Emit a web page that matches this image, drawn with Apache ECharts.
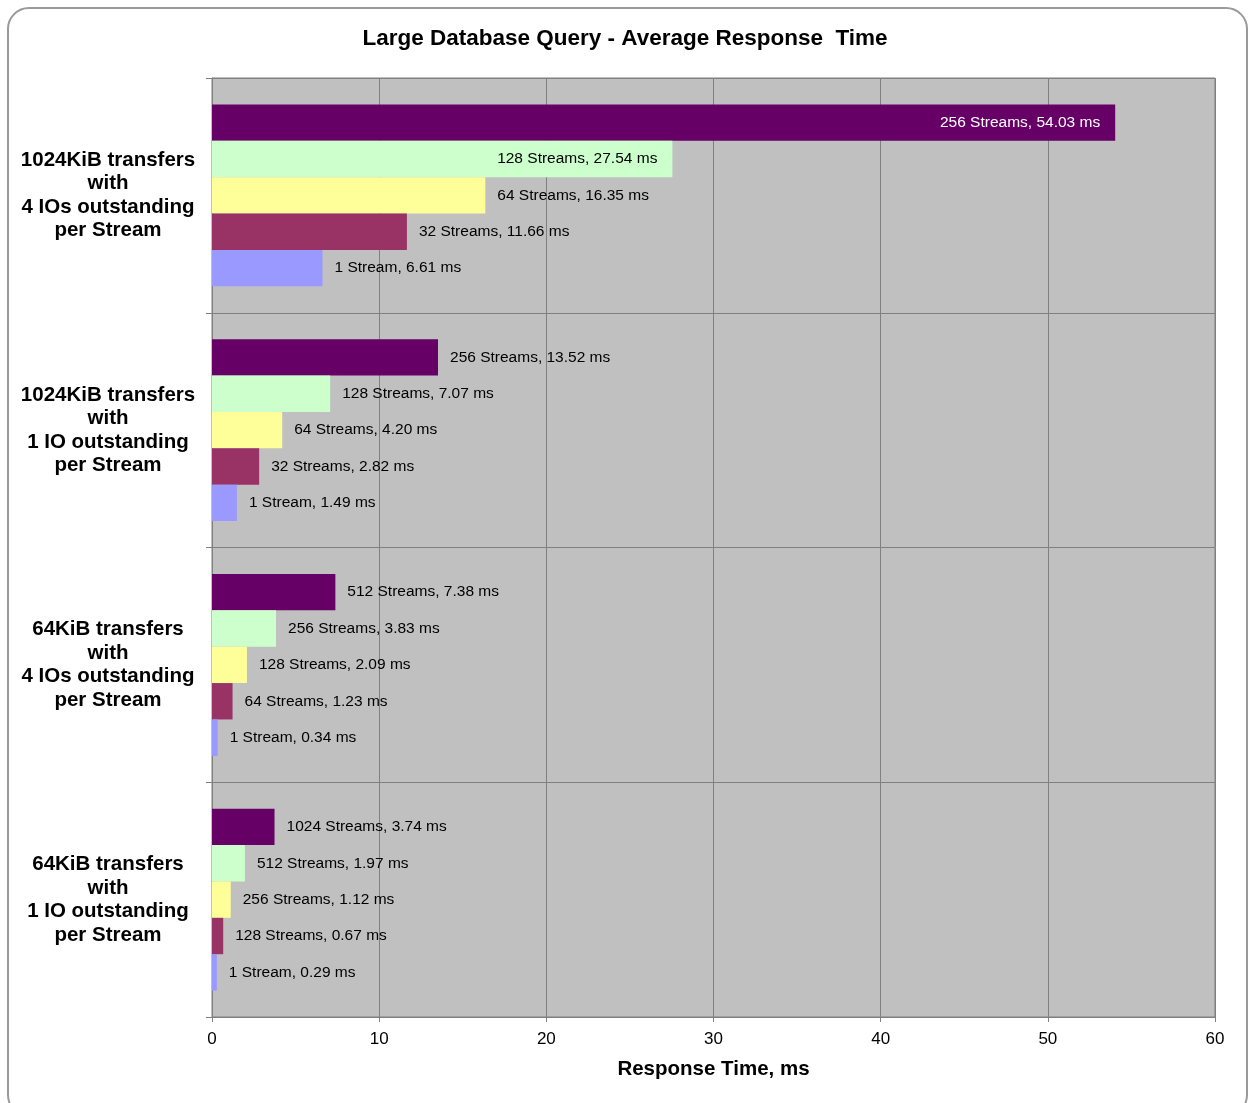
<!DOCTYPE html>
<html><head><meta charset="utf-8">
<script src="https://cdn.jsdelivr.net/npm/echarts@6/dist/echarts.min.js"></script>
<style>
html,body{margin:0;padding:0;background:#fff;}
#frame{position:absolute;left:7px;top:7px;width:1241px;height:1110px;border:2px solid #9a9a9a;border-radius:22px;box-sizing:border-box;}
#chart{position:absolute;left:0;top:0;width:1250px;height:1103px;}
</style></head>
<body>
<div id="frame"></div>
<div id="chart"></div>
<script>
const categories = [
  "1024KiB transfers\nwith\n4 IOs outstanding\nper Stream",
  "1024KiB transfers\nwith\n1 IO outstanding\nper Stream",
  "64KiB transfers\nwith\n4 IOs outstanding\nper Stream",
  "64KiB transfers\nwith\n1 IO outstanding\nper Stream"
];
// series (top to bottom within each group)
const s1Values = [54.03, 13.52, 7.38, 3.74];
const s1Names  = ["256 Streams", "256 Streams", "512 Streams", "1024 Streams"];
const s2Values = [27.54, 7.07, 3.83, 1.97];
const s2Names  = ["128 Streams", "128 Streams", "256 Streams", "512 Streams"];
const s3Values = [16.35, 4.20, 2.09, 1.12];
const s3Names  = ["64 Streams", "64 Streams", "128 Streams", "256 Streams"];
const s4Values = [11.66, 2.82, 1.23, 0.67];
const s4Names  = ["32 Streams", "32 Streams", "64 Streams", "128 Streams"];
const s5Values = [6.61, 1.49, 0.34, 0.29];
const s5Names  = ["1 Stream", "1 Stream", "1 Stream", "1 Stream"];
const colors = ["#660066", "#CCFFCC", "#FFFF99", "#993366", "#9999FF"];

const font = "'Liberation Sans', Arial, sans-serif";
function mk(idx, vals, names) {
  return {
    type: 'bar',
    name: 's' + idx,
    barGap: '0%',
    barCategoryGap: '22.5%',
    itemStyle: { color: colors[idx] },
    data: vals.map((v, i) => {
      const inside = v > 20;
      return {
        value: v,
        label: {
          show: true,
          position: inside ? 'insideRight' : 'right',
          distance: inside ? 15 : 12,
          color: (idx === 0 && inside) ? '#ffffff' : '#000000',
          fontFamily: font,
          fontSize: 15.5,
          formatter: names[i] + ', ' + v.toFixed(2) + ' ms'
        }
      };
    })
  };
}

const chart = echarts.init(document.getElementById('chart'));
chart.setOption({
  animation: false,
  title: {
    text: 'Large Database Query - Average Response  Time',
    left: 'center', top: 22,
    textStyle: { fontFamily: font, fontSize: 22.5, fontWeight: 'bold', color: '#000' }
  },
  grid: {
    left: 212, right: 35, top: 78, bottom: 86,
    show: true, backgroundColor: '#C0C0C0', borderColor: '#808080', borderWidth: 1
  },
  xAxis: {
    type: 'value', min: 0, max: 60, interval: 10,
    name: 'Response Time, ms', nameLocation: 'middle', nameGap: 42,
    nameTextStyle: { fontFamily: font, fontSize: 20.5, fontWeight: 'bold', color: '#000' },
    axisLine: { show: true, lineStyle: { color: '#808080' } },
    axisTick: { show: true, length: 5, lineStyle: { color: '#808080' } },
    axisLabel: { fontFamily: font, fontSize: 17, color: '#000', margin: 14 },
    splitLine: { show: true, lineStyle: { color: '#808080', width: 1 } }
  },
  yAxis: {
    type: 'category', data: categories, inverse: true,
    axisLine: { show: true, lineStyle: { color: '#808080' } },
    axisTick: { show: true, length: 6, lineStyle: { color: '#808080' } },
    axisLabel: { fontFamily: font, fontSize: 20.5, fontWeight: 'bold', color: '#000',
      align: 'center', margin: 104, lineHeight: 23.5 },
    splitLine: { show: true, lineStyle: { color: '#808080', width: 1 } }
  },
  series: [
    mk(0, s1Values, s1Names),
    mk(1, s2Values, s2Names),
    mk(2, s3Values, s3Names),
    mk(3, s4Values, s4Names),
    mk(4, s5Values, s5Names)
  ]
});
</script>
</body></html>
